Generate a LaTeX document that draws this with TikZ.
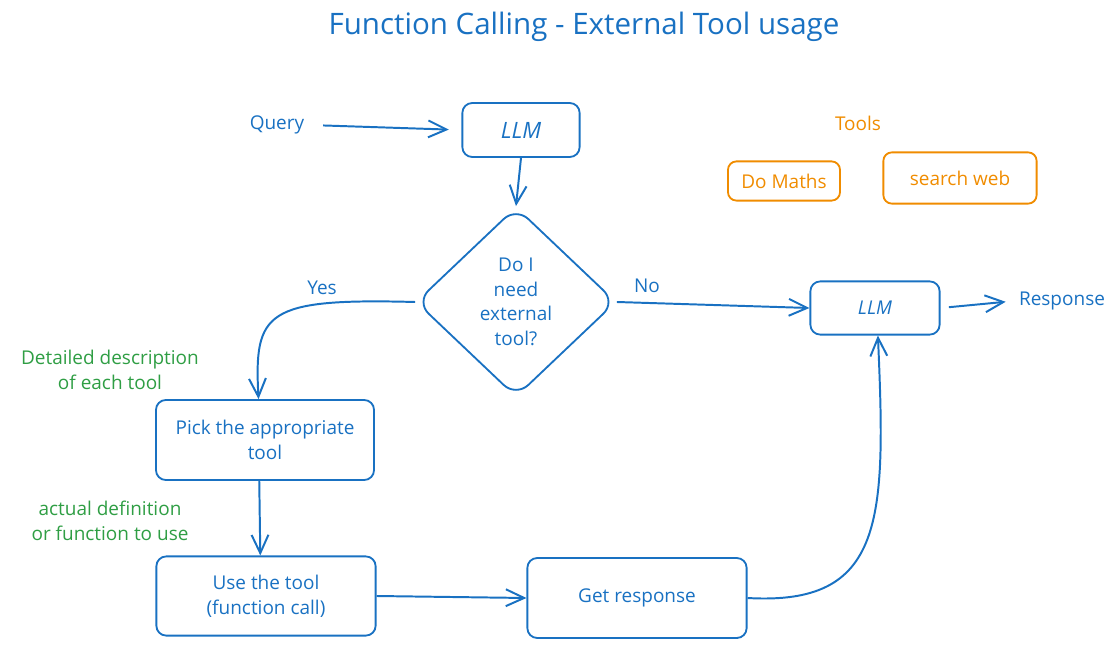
\documentclass[tikz,border=0pt]{standalone}
\usepackage{fontspec}
\setmainfont{Open Sans}
\usetikzlibrary{shapes.geometric,arrows.meta}
\definecolor{exblue}{HTML}{1971C2}
\definecolor{exorange}{HTML}{F08C00}
\definecolor{exgreen}{HTML}{2F9E44}
\begin{document}
\begin{tikzpicture}[x=0.025cm, y=-0.025cm, >={Straight Barb[length=13pt,width=12pt]},
    box/.style={draw=exblue, line width=1.3pt, rounded corners=7pt, text=exblue, align=center,
      inner sep=0pt, font=\fontsize{13.5}{17.5}\selectfont},
    toolbox/.style={draw=exorange, line width=1.3pt, rounded corners=6pt, text=exorange,
      inner sep=0pt, font=\fontsize{13.5}{16}\selectfont},
    link/.style={exblue, line width=1.4pt, ->},
    tag/.style={text=exblue, font=\fontsize{13.5}{16}\selectfont},
    note/.style={text=exgreen, align=center, font=\fontsize{13.5}{17.5}\selectfont}]
  \useasboundingbox (0,0) rectangle (1119,649);
  % title
  \node[text=exblue, font=\fontsize{21}{24}\selectfont] (title) at (584,27) {Function Calling - External Tool usage};
  % main flow
  \node[tag] (query) at (277,125) {Query};
  \node[box, minimum width=2.93cm, minimum height=1.35cm, font=\fontsize{16}{18}\selectfont\itshape] (llm) at (521,130) {LLM};
  \node[box, shape=diamond, aspect=1.07, minimum width=5cm, minimum height=4.75cm, rounded corners=12pt] (need) at (516,302) {Do I\\need\\external\\tool?};
  \node[box, minimum width=3.23cm, minimum height=1.33cm, font=\fontsize{13.5}{16}\selectfont\itshape] (llmout) at (875,308) {LLM};
  \node[tag] (response) at (1062,301) {Response};
  \node[box, minimum width=5.45cm, minimum height=2cm] (pick) at (265,440) {Pick the appropriate\\tool};
  \node[box, minimum width=5.48cm, minimum height=1.98cm] (use) at (266,596) {Use the tool\\(function call)};
  \node[box, minimum width=5.48cm, minimum height=2cm] (get) at (637,598) {Get response};
  % tools
  \node[text=exorange, font=\fontsize{13.5}{16}\selectfont] (tools) at (858,123) {Tools};
  \node[toolbox, minimum width=2.8cm, minimum height=0.98cm] (maths) at (784,181) {Do Maths};
  \node[toolbox, minimum width=3.83cm, minimum height=1.28cm] (web) at (960,178) {search web};
  % notes
  \node[note] (detail) at (110,370) {Detailed description\\of each tool};
  \node[note] (define) at (110,521) {actual definition\\or function to use};
  \node[tag] (yes) at (322,288) {Yes};
  \node[tag] (no) at (647,286) {No};
  % connectors
  \draw[link, shorten <=10pt, shorten >=9pt] (query.east) -- (llm.west);
  \draw[link] (llm.south) -- (need.north);
  \draw[link] (need.east) -- (llmout.west);
  \draw[link, shorten <=6pt, shorten >=6pt] (llmout.east) -- (response.west);
  \draw[link] (need.west) .. controls (265,298) and (254,312) .. (pick.99);
  \draw[link] (pick.262) -- (use.98);
  \draw[link] (use.east) -- (get.west);
  \draw[link] (get.east) .. controls (885,606) and (886,520) .. (llmout.-84);
\end{tikzpicture}
\end{document}
